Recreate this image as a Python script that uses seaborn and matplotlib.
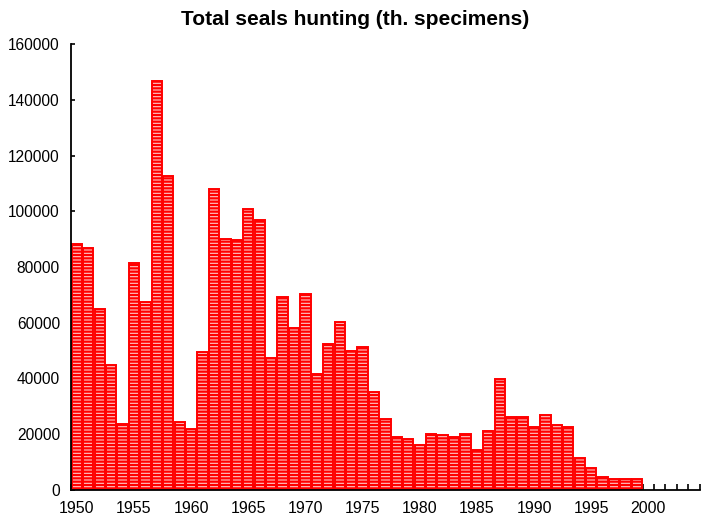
import numpy as np
import pandas as pd
import matplotlib
matplotlib.use("Agg")
import matplotlib.pyplot as plt
import matplotlib.ticker as mticker
import seaborn as sns

# seals hunted per year
years = list(range(1950, 2000))
seals = [88300, 86800, 64900, 45000, 23600, 81500, 67300, 146700, 112600, 24500,
         22000, 49400, 108100, 90200, 89800, 100900, 97000, 47500, 69200, 58100,
         70300, 41500, 52300, 60200, 49900, 51300, 35300, 25500, 19100, 18200,
         16200, 20200, 19600, 19100, 20200, 14300, 21200, 39700, 26100, 26100,
         22600, 27000, 23200, 22600, 11400, 8000, 4700, 4000, 4000, 4000]

y_ticks = [0, 20000, 40000, 60000, 80000, 100000, 120000, 140000, 160000]
x_labels = list(range(1950, 2001, 5))

df = pd.DataFrame({"year": years, "seals": seals})


def main():
    sns.set_style("white")
    plt.rcParams["font.family"] = ["Liberation Sans", "DejaVu Sans"]
    plt.rcParams["text.color"] = "black"
    plt.rcParams["xtick.color"] = "black"
    plt.rcParams["ytick.color"] = "black"
    plt.rcParams["hatch.color"] = "red"
    plt.rcParams["hatch.linewidth"] = 1.6

    fig = plt.figure(figsize=(7.04, 5.19), dpi=100)
    ax = fig.add_axes([0.101, 0.056, 0.893, 0.859])

    sns.barplot(data=df, x="year", y="seals", native_scale=True, ax=ax,
                color="#ffc4c4", saturation=1, width=0.9, errorbar=None,
                edgecolor="red", linewidth=1.4, hatch="-----")
    # make sure the pink fill shows between the hatch lines
    for p in ax.patches:
        p.set_facecolor("#ffc4c4")
        p.set_edgecolor("red")

    ax.set_xlim(1949.5, 2004.5)
    ax.set_ylim(0, 160000)
    ax.set_xticks(x_labels)
    ax.set_xticks(np.arange(1949.5, 2005, 1), minor=True)
    ax.set_yticks(y_ticks)
    ax.yaxis.set_major_formatter(mticker.StrMethodFormatter("{x:.0f}"))
    ax.tick_params(axis="x", which="major", bottom=True, length=0, pad=8, labelsize=11.5)
    ax.tick_params(axis="x", which="minor", bottom=True, direction="in", length=4, width=1.2, color="black")
    ax.tick_params(axis="y", left=True, direction="in", length=3, width=1.2, color="black",
                   labelsize=11.2, pad=8)
    ax.set_xlabel("")
    ax.set_ylabel("")

    for side in ["top", "right"]:
        ax.spines[side].set_visible(False)
    for side in ["left", "bottom"]:
        ax.spines[side].set_color("black")
        ax.spines[side].set_linewidth(1.3)

    fig.text(0.505, 0.962, "Total seals hunting (th. specimens)", ha="center", va="center",
             fontsize=15, fontweight="bold")

    fig.savefig("out.png", dpi=100)


main()
